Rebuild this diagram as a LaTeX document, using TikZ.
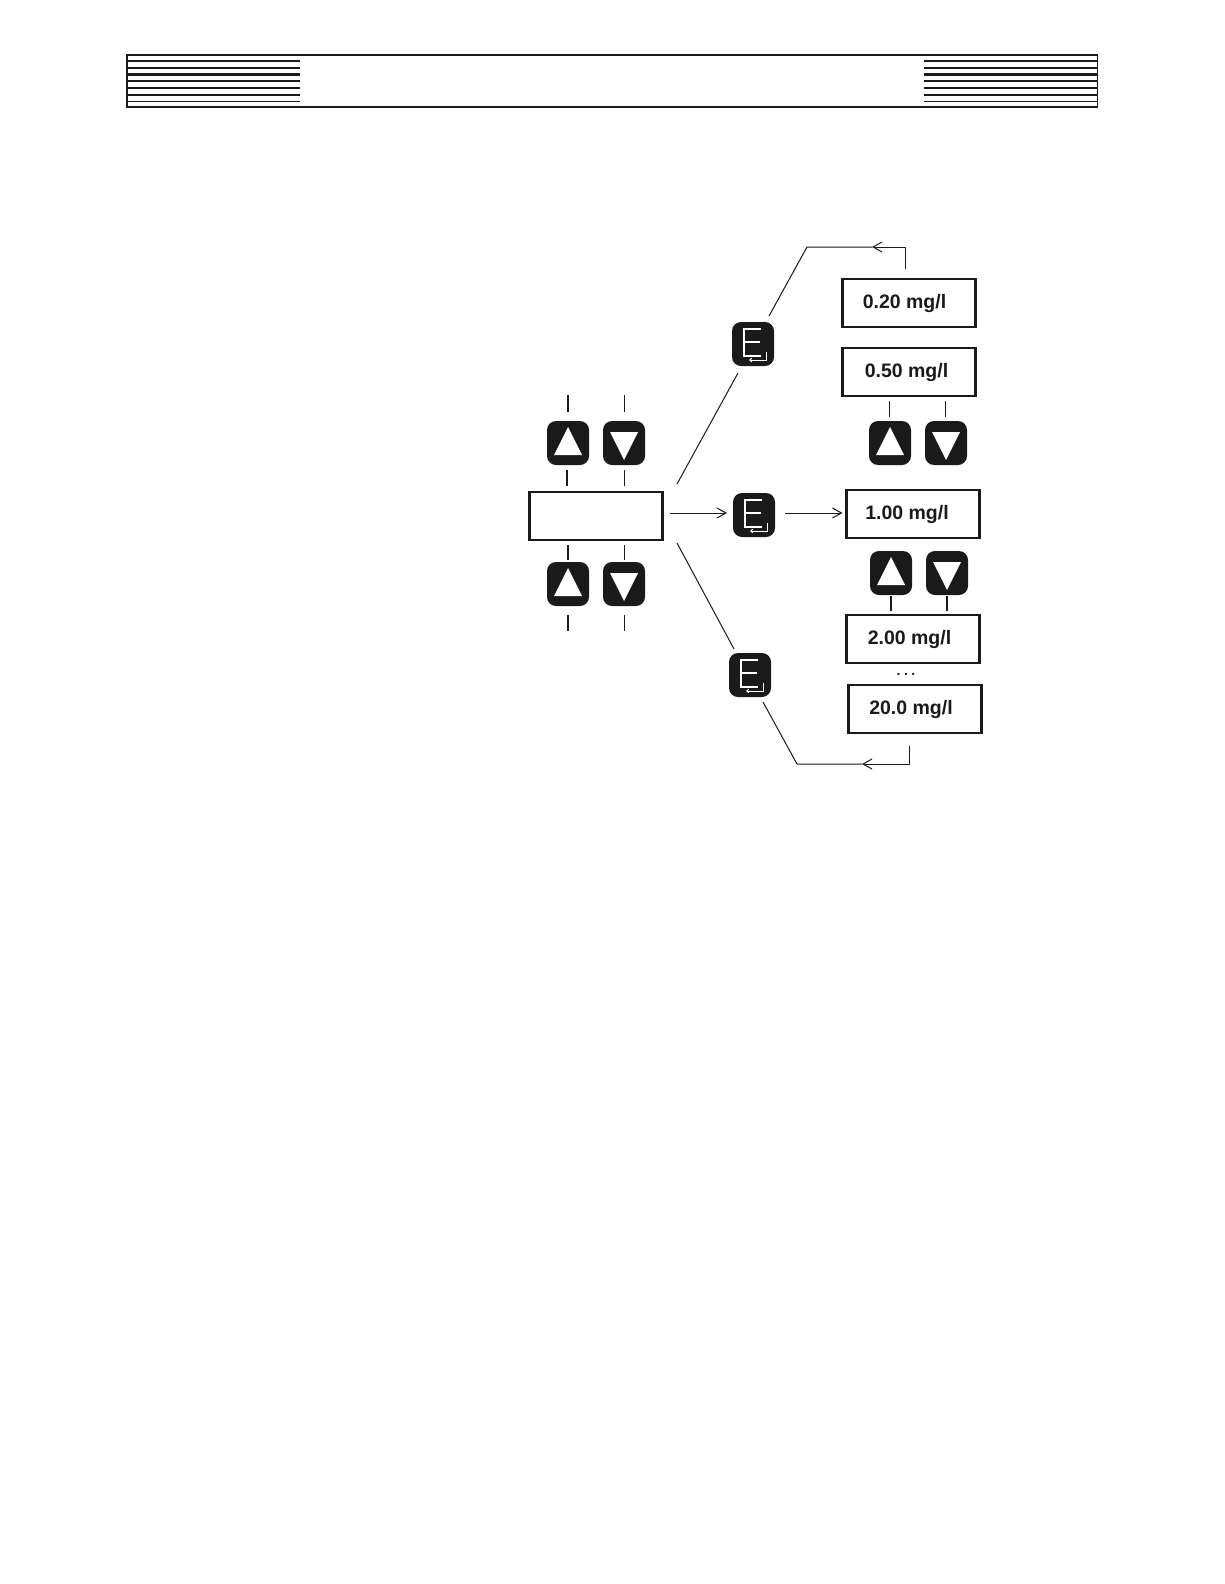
\documentclass[tikz,border=0pt]{standalone}
\usepackage{fontspec}
\setmainfont{Liberation Sans}
\usetikzlibrary{arrows.meta,calc}
\definecolor{ink}{HTML}{1A1A1A}
\newcommand{\boxval}[3]{\hspace*{#1}\raisebox{#2}{#3}}
\tikzset{
  x=1pt,y=-1pt,
  frame/.style={draw=ink,line width=1.9pt,fill=white},
  rule/.style={draw=ink},
  dispbox/.style={draw=ink,line width=2.5pt,fill=white,minimum width=133pt,minimum height=48pt,inner sep=0pt,font=\bfseries\fontsize{19.5}{21}\selectfont,text=ink},
  keybase/.style={fill=ink,draw=none,rounded corners=9pt,minimum width=42pt,minimum height=44pt,inner sep=0pt},
  glyphline/.style={white,line width=1.9pt},
  glypharrow/.style={white,line width=1pt,-{Straight Barb[length=2pt,width=3.5pt]}},
  conn/.style={draw=ink,line width=1pt},
  stub/.style={draw=ink,line width=1.2pt},
  flow/.style={conn,-{Straight Barb[length=9pt,width=10pt,line width=1pt]}},
}
\begin{document}
\begin{tikzpicture}
\useasboundingbox (0,0) rectangle (1224,1584);
\fill[white] (0,0) rectangle (1224,1584);
% header
\draw[frame] (127,55) rectangle (1097.5,107);
\foreach \y/\w in {61/2.2,68/2.2,74.5/2.2,81/2.2,88/2.2,95/2.2,101.5/1.3}{
  \draw[rule,line width=\w pt] (127,\y) -- (300,\y);
  \draw[rule,line width=\w pt] (924,\y) -- (1097.5,\y);
}
% boxes
\node[dispbox] (main) at (596,516) {};
\node[dispbox] (b020) at (909,303) {\boxval{-9pt}{-5pt}{0.20 mg/l}};
\node[dispbox] (b050) at (909,372) {\boxval{-5pt}{-4.5pt}{0.50 mg/l}};
\node[dispbox] (b100) at (913,514) {\boxval{-12pt}{-6pt}{1.00 mg/l}};
\node[dispbox] (b200) at (913,639) {\boxval{-7pt}{-5pt}{2.00 mg/l}};
\node[dispbox] (b2000) at (915,709) {\boxval{-8pt}{-3.5pt}{20.0 mg/l}};
\node[text=ink,font=\bfseries\fontsize{14}{14}\selectfont,inner sep=0pt] (dots) at (906,674) {.\hspace{3.5pt}.\hspace{3.5pt}.};
% keys
\node[keybase] (ul1) at (568,443) {};
\node[keybase] (dl1) at (624,443) {};
\node[keybase] (ul2) at (568,584) {};
\node[keybase] (dl2) at (624,584) {};
\node[keybase] (ur1) at (890,443) {};
\node[keybase] (dr1) at (946,443) {};
\node[keybase] (ur2) at (891,573) {};
\node[keybase] (dr2) at (947,573) {};
\node[keybase] (e1) at (753,344) {};
\node[keybase] (e2) at (754,515) {};
\node[keybase] (e3) at (750,675) {};
\foreach \k in {ul1,ul2,ur1,ur2}{
  \fill[white] ($(\k)+(0,-16)$) -- ++(14,28) -- ++(-28,0) -- cycle;
}
\foreach \k in {dl1,dl2,dr1,dr2}{
  \fill[white] ($(\k)+(-14,-11)$) -- ++(28,0) -- ++(-14,28) -- cycle;
}
\foreach \k in {e1,e2,e3}{
  \draw[glyphline] ($(\k)+(8,-15)$) -| ++(-17,27) -- ++(17,0) ($(\k)+(-9,-2)$) -- ++(16,0);
  \draw[glypharrow] ($(\k)+(13,8)$) |- ++(-17,8);
}
% stub end points
\foreach \n/\x/\a/\b in {s1/568/395/412,s2/624.5/395/412,s3/567/470/486,s4/624.5/470/486,
  s5/568/545/560,s6/624.5/545/560,s7/568/615/631,s8/624.5/615/631,
  s9/889.5/401/417,s10/945.5/401/417,s11/891/596/611,s12/947/596/611}{
  \coordinate (\n a) at (\x,\a);
  \coordinate (\n b) at (\x,\b);
  \draw[stub] (\n a) -- (\n b);
}
% connectors
\coordinate (m1) at (670,513);
\coordinate (e2in) at (727,513);
\coordinate (e2out) at (785,513);
\coordinate (b100in) at (842.5,513);
\draw[flow] (m1) -- (e2in);
\draw[flow] (e2out) -- (b100in);
\coordinate (mu) at (677,484);
\coordinate (e1in) at (738,373);
\draw[conn] (mu) -- (e1in);
\coordinate (md) at (677,543);
\coordinate (e3in) at (734,649);
\draw[conn] (md) -- (e3in);
\coordinate (e1out) at (769,316);
\coordinate (rt) at (807,247);
\coordinate (rtr) at (905.7,247);
\coordinate (rts) at (905.7,269);
\coordinate (rtm) at (872,247);
\draw[conn,line join=round] (e1out) -- (rt) -- (rtm);
\draw[flow,line join=round] (rts) -- (rtr) -- (rtm);
\coordinate (e3out) at (763,702);
\coordinate (rb) at (797,764);
\coordinate (rbr) at (909,764);
\coordinate (rbs) at (909,746);
\coordinate (rbm) at (862,764);
\draw[conn,line join=round] (e3out) -- (rb) -- (rbm);
\draw[flow,line join=round] (rbs) -- (rbr) -- (rbm);
\end{tikzpicture}
\end{document}
